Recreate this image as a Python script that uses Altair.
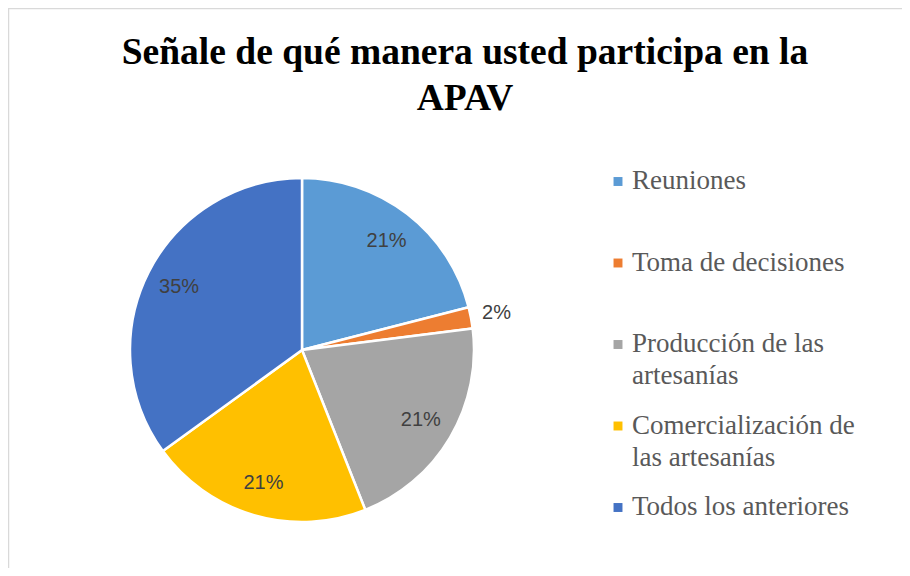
import altair as alt
import pandas as pd

categories = ["Reuniones", "Toma de decisiones", "Producción de las artesanías",
              "Comercialización de las artesanías", "Todos los anteriores"]
legend_labels = ["Reuniones", "Toma de decisiones", "Producción de las\nartesanías",
                 "Comercialización de\nlas artesanías", "Todos los anteriores"]
values = [21, 2, 21, 21, 35]
colors = ["#5B9BD5", "#ED7D31", "#A5A5A5", "#FFC000", "#4472C4"]
title_lines = "Señale de qué manera usted participa en la\nAPAV"

df = pd.DataFrame({
    "cat": categories,
    "label": legend_labels,
    "value": values,
    "idx": list(range(len(categories))),
})
tdf = pd.DataFrame({"t": [title_lines]})

W, H = 894, 560
CX, CY = 294, 342

color_scale = alt.Scale(domain=categories, range=colors)

base = alt.Chart(df)

pie = base.mark_arc(radius=172, stroke="white", strokeWidth=2.5).encode(
    theta=alt.Theta("value:Q", stack=True),
    color=alt.Color("cat:N", scale=color_scale, legend=None),
    order=alt.Order("idx:Q"),
    x=alt.value(CX), y=alt.value(CY),
)

def pct_layer(expr, r):
    return base.transform_calculate(
        txt=expr,
    ).mark_text(font="Liberation Sans", fontSize=20, color="#404040",
                align="center", baseline="middle", radius=r).encode(
        theta=alt.Theta("value:Q", stack=True),
        order=alt.Order("idx:Q"),
        text="txt:N",
        x=alt.value(CX), y=alt.value(CY),
    )

pct_in = pct_layer("datum.value >= 5 ? format(datum.value, 'd') + '%' : ''", 138)
pct_out = pct_layer("datum.value < 5 ? format(datum.value, 'd') + '%' : ''", 198)

ypos = alt.Y("cat:N", scale=alt.Scale(domain=categories, range=[181, 507], padding=0),
             axis=None)

leg_sq = base.mark_point(shape="square", filled=True, size=80, opacity=1).encode(
    x=alt.value(610),
    y=ypos,
    yOffset=alt.value(-7.5),
    color=alt.Color("cat:N", scale=color_scale, legend=None),
)

leg_txt = base.mark_text(font="Liberation Serif", fontSize=27, color="#595959",
                         align="left", baseline="alphabetic", lineBreak="\n",
                         lineHeight=32).encode(
    x=alt.value(624),
    y=ypos,
    text="label:N",
)

title = alt.Chart(tdf).mark_text(font="Liberation Serif", fontSize=37.5, fontWeight="bold",
                                 color="#000000", align="center", baseline="alphabetic",
                                 lineBreak="\n", lineHeight=46).encode(
    x=alt.value(457), y=alt.value(56), text="t:N")

border_l = alt.Chart(tdf).mark_rule(color="#d9d9d9", strokeWidth=1.5).encode(
    x=alt.value(0.5), y=alt.value(0), y2=alt.value(H))
border_t = alt.Chart(tdf).mark_rule(color="#d9d9d9", strokeWidth=1.5).encode(
    x=alt.value(0), x2=alt.value(W), y=alt.value(0.5))

chart = alt.layer(border_l, border_t, pie, pct_in, pct_out, leg_sq, leg_txt, title).properties(
    width=W, height=H, background="white",
    autosize=alt.AutoSizeParams(type="none"), padding=0,
).configure_view(stroke=None)

chart.save("out.html", embed_options={"renderer": "svg", "actions": False})
